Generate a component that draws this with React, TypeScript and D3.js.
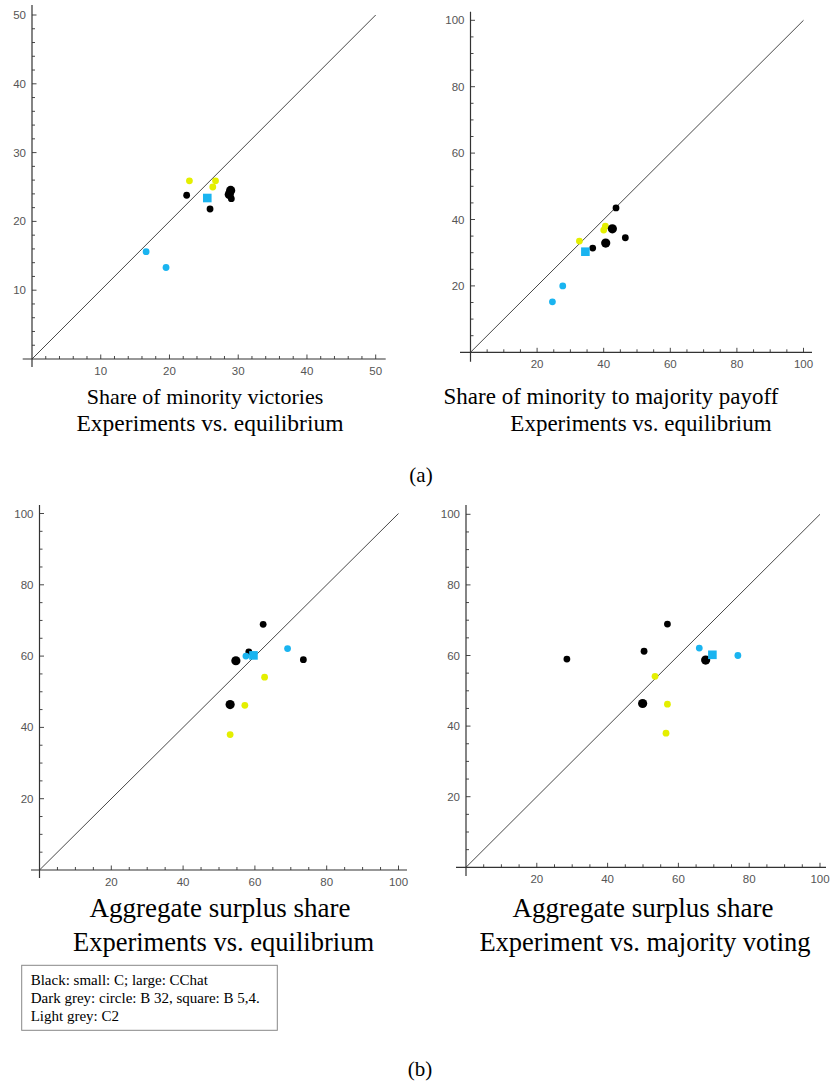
import React from "react";
import * as d3 from "d3";

// ---------- DATA ----------
// Panel 1: Share of minority victories (x: equilibrium, y: experiments)
const p1SmallBlack: [number, number][] = [[22.5, 23.8], [25.9, 21.8], [29.0, 23.3]];
const p1LargeBlack: [number, number][] = [[28.9, 24.5], [28.7, 23.9]];
const p1Yellow: [number, number][] = [[22.9, 25.9], [26.7, 25.9], [26.3, 25.0]];
const p1CyanCircle: [number, number][] = [[16.6, 15.6], [19.5, 13.3]];
const p1CyanSquare: [number, number][] = [[25.5, 23.4]];

// Panel 2: Share of minority to majority payoff
const p2SmallBlack: [number, number][] = [[43.7, 43.5], [46.5, 34.5], [36.7, 31.4]];
const p2LargeBlack: [number, number][] = [[42.6, 37.2], [40.6, 32.9]];
const p2Yellow: [number, number][] = [[40.5, 38.0], [40.0, 36.8], [32.7, 33.5]];
const p2CyanCircle: [number, number][] = [[27.7, 20.0], [24.6, 15.2]];
const p2CyanSquare: [number, number][] = [[34.5, 30.3]];

// Panels 3 & 4: Aggregate surplus share (experiment y; equilibrium x; majority voting x)
const smallBlackExp = [68.9, 61.2, 59.0];
const smallBlackEq = [62.3, 58.3, 73.5];
const smallBlackMv = [56.9, 50.3, 28.5];
const largeBlackExp = [58.7, 46.4];
const largeBlackEq = [54.7, 53.1];
const largeBlackMv = [67.7, 49.9];
const yellowExp = [54.1, 46.2, 38.0];
const yellowEq = [62.7, 57.2, 53.1];
const yellowMv = [53.4, 56.9, 56.5];
const cyanCircleExp = [62.1, 60.0];
const cyanCircleEq = [69.1, 57.5];
const cyanCircleMv = [65.9, 76.8];
const cyanSquareExp = [60.2];
const cyanSquareEq = [59.6];
const cyanSquareMv = [69.6];

const ticksSmall = [10, 20, 30, 40, 50];
const ticksLarge = [20, 40, 60, 80, 100];

const legendLines = [
  "Black: small: C; large: CChat",
  "Dark grey: circle: B 32, square: B 5,4.",
  "Light grey: C2",
];

const zip = (xs: number[], ys: number[]): [number, number][] => xs.map((x, i) => [x, ys[i]]);

// ---------- STYLE ----------
const YELLOW = "#e4ef00";
const CYAN = "#1ab4f0";
const AXIS = "#333";
const SERIF = "'Liberation Serif', 'Times New Roman', serif";
const SANS = "'Liberation Sans', Arial, sans-serif";

type Groups = {
  smallBlack: [number, number][];
  largeBlack: [number, number][];
  yellow: [number, number][];
  cyanCircle: [number, number][];
  cyanSquare: [number, number][];
};

type PanelProps = {
  max: number;
  minorStep: number;
  majorTicks: number[];
  px: [number, number];
  py: [number, number];
  xAxisExt: [number, number];
  yAxisExt: [number, number];
  groups: Groups;
};

function Panel({ max, minorStep, majorTicks, px, py, xAxisExt, yAxisExt, groups }: PanelProps) {
  const x = d3.scaleLinear().domain([0, max]).range(px);
  const y = d3.scaleLinear().domain([0, max]).range(py);
  const minor = d3.range(minorStep, max + 0.001, minorStep);
  const line = d3.line<[number, number]>().x((d) => x(d[0])).y((d) => y(d[1]));
  const x0 = x(0);
  const y0 = y(0);
  const isMajor = (v: number) => majorTicks.some((m) => Math.abs(m - v) < 1e-6);
  return (
    <g>
      <line x1={xAxisExt[0]} x2={xAxisExt[1]} y1={y0} y2={y0} stroke={AXIS} strokeWidth={1.2} />
      <line x1={x0} x2={x0} y1={yAxisExt[0]} y2={yAxisExt[1]} stroke={AXIS} strokeWidth={1.2} />
      {minor.map((v) => (
        <g key={"t" + v}>
          <line x1={x(v)} x2={x(v)} y1={y0} y2={y0 - (isMajor(v) ? 4.5 : 3)} stroke={AXIS} strokeWidth={0.9} />
          <line x1={x0} x2={x0 + (isMajor(v) ? 4.5 : 3)} y1={y(v)} y2={y(v)} stroke={AXIS} strokeWidth={0.9} />
        </g>
      ))}
      {majorTicks.map((v) => (
        <g key={"l" + v} fontFamily={SANS} fontSize={11.5} fill="#555">
          <text x={x(v)} y={y0 + 16} textAnchor="middle">{v}</text>
          <text x={x0 - 6} y={y(v) + 4} textAnchor="end">{v}</text>
        </g>
      ))}
      <path d={line([[0, 0], [max, max]]) || ""} fill="none" stroke="#333" strokeWidth={0.9} />
      {groups.yellow.map((d, i) => (
        <circle key={"y" + i} cx={x(d[0])} cy={y(d[1])} r={3.4} fill={YELLOW} />
      ))}
      {groups.smallBlack.map((d, i) => (
        <circle key={"sb" + i} cx={x(d[0])} cy={y(d[1])} r={3.4} fill="#000" />
      ))}
      {groups.largeBlack.map((d, i) => (
        <circle key={"lb" + i} cx={x(d[0])} cy={y(d[1])} r={4.6} fill="#000" />
      ))}
      {groups.cyanCircle.map((d, i) => (
        <circle key={"cc" + i} cx={x(d[0])} cy={y(d[1])} r={3.4} fill={CYAN} />
      ))}
      {groups.cyanSquare.map((d, i) => (
        <rect key={"cs" + i} x={x(d[0]) - 4.3} y={y(d[1]) - 4.3} width={8.6} height={8.6} fill={CYAN} />
      ))}
    </g>
  );
}

export default function App() {
  return (
    <svg width={830} height={1083} style={{ position: "absolute", left: 0, top: 0, background: "#fff" }}>
      <rect width={830} height={1083} fill="#fff" />
      <Panel
        max={50}
        minorStep={2}
        majorTicks={ticksSmall}
        px={[32, 375.7]}
        py={[359, 15]}
        xAxisExt={[22.7, 385.7]}
        yAxisExt={[5, 367]}
        groups={{
          smallBlack: p1SmallBlack,
          largeBlack: p1LargeBlack,
          yellow: p1Yellow,
          cyanCircle: p1CyanCircle,
          cyanSquare: p1CyanSquare,
        }}
      />
      <Panel
        max={100}
        minorStep={5}
        majorTicks={ticksLarge}
        px={[470.5, 803.5]}
        py={[352.3, 20.3]}
        xAxisExt={[460, 812]}
        yAxisExt={[11.7, 361.7]}
        groups={{
          smallBlack: p2SmallBlack,
          largeBlack: p2LargeBlack,
          yellow: p2Yellow,
          cyanCircle: p2CyanCircle,
          cyanSquare: p2CyanSquare,
        }}
      />
      <Panel
        max={100}
        minorStep={5}
        majorTicks={ticksLarge}
        px={[39.5, 398.5]}
        py={[870, 513.5]}
        xAxisExt={[31, 407]}
        yAxisExt={[505, 878]}
        groups={{
          smallBlack: zip(smallBlackEq, smallBlackExp),
          largeBlack: zip(largeBlackEq, largeBlackExp),
          yellow: zip(yellowEq, yellowExp),
          cyanCircle: zip(cyanCircleEq, cyanCircleExp),
          cyanSquare: zip(cyanSquareEq, cyanSquareExp),
        }}
      />
      <Panel
        max={100}
        minorStep={5}
        majorTicks={ticksLarge}
        px={[466, 820]}
        py={[867.3, 514.3]}
        xAxisExt={[456, 826]}
        yAxisExt={[505, 876]}
        groups={{
          smallBlack: zip(smallBlackMv, smallBlackExp),
          largeBlack: zip(largeBlackMv, largeBlackExp),
          yellow: zip(yellowMv, yellowExp),
          cyanCircle: zip(cyanCircleMv, cyanCircleExp),
          cyanSquare: zip(cyanSquareMv, cyanSquareExp),
        }}
      />

      <g fontFamily={SERIF} fill="#000" textAnchor="middle">
        <text x={205} y={404} fontSize={22}>Share of minority victories</text>
        <text x={210} y={431} fontSize={23.5}>Experiments vs. equilibrium</text>
        <text x={611} y={404} fontSize={23}>Share of minority to majority payoff</text>
        <text x={641} y={431} fontSize={23}>Experiments vs. equilibrium</text>
        <text x={421} y={482} fontSize={21}>(a)</text>

        <text x={220} y={917} fontSize={27}>Aggregate surplus share</text>
        <text x={223.5} y={951} fontSize={26.5}>Experiments vs. equilibrium</text>
        <text x={643} y={917} fontSize={27}>Aggregate surplus share</text>
        <text x={645} y={951} fontSize={26.5}>Experiment vs. majority voting</text>
        <text x={420} y={1076} fontSize={21}>(b)</text>
      </g>

      <rect x={21.7} y={965.3} width={255.6} height={65} fill="#fff" stroke="#888" strokeWidth={1} />
      <g fontFamily={SERIF} fontSize={15} fill="#000">
        {legendLines.map((t, i) => (
          <text key={i} x={30.7} y={985 + i * 18}>{t}</text>
        ))}
      </g>
    </svg>
  );
}
